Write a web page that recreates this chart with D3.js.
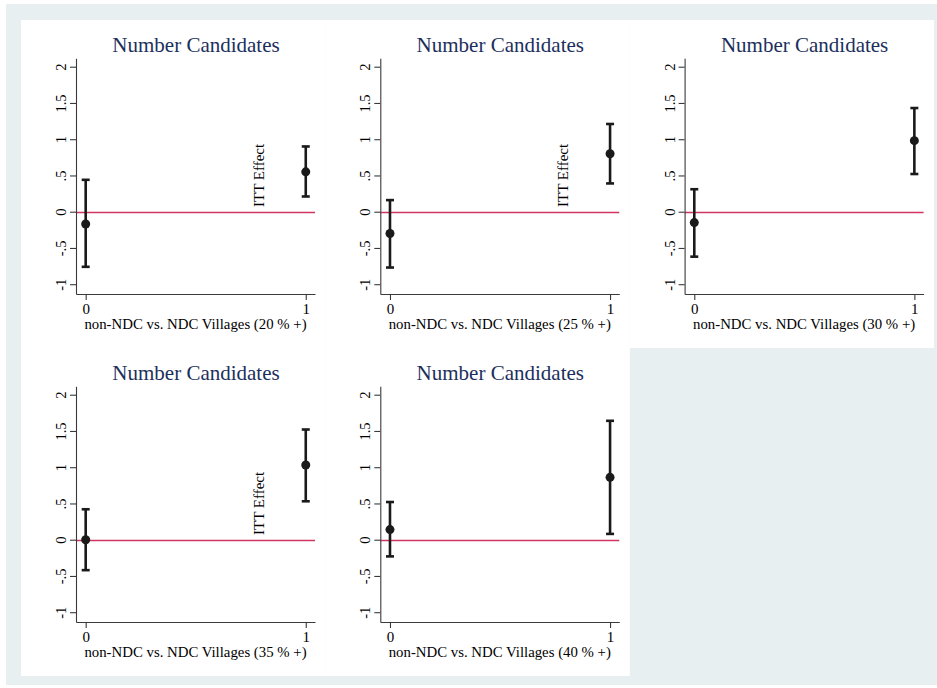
<!doctype html>
<html>
<head>
<meta charset="utf-8">
<script src="https://d3js.org/d3.v7.min.js"></script>
<style>
  body { margin: 0; background: #ffffff; }
  text { font-family: "Liberation Serif", "Times New Roman", serif; }
</style>
</head>
<body>
<div id="chart"></div>
<script>
// ---- data ----
var thresholds = ["20", "25", "30", "35", "40"];
var groups = [0, 1];
var pointEst = [[-0.17, 0.55], [-0.30, 0.80], [-0.15, 0.98], [0.00, 1.03], [0.14, 0.86]];
var ciLow    = [[-0.76, 0.21], [-0.77, 0.39], [-0.62, 0.52], [-0.42, 0.53], [-0.23, 0.08]];
var ciHigh   = [[0.44, 0.90], [0.16, 1.21], [0.31, 1.43], [0.42, 1.52], [0.52, 1.64]];
var showItt  = [true, true, false, true, false];
var yTicks = [-1, -0.5, 0, 0.5, 1, 1.5, 2];
var yTickLabels = ["-1", "-.5", "0", ".5", "1", "1.5", "2"];
var xTicks = [0, 1];

var W = 937, H = 688;
var panelW = 304.5, panelH = 328;

var svg = d3.select("#chart").append("svg")
    .attr("width", W)
    .attr("height", H);

// outer (combined graph) region
svg.append("rect")
    .attr("x", 6).attr("y", 4)
    .attr("width", W - 6).attr("height", 681)
    .attr("fill", "#e8eff1");

// scales shared by all panels (panel-local coords)
var x = d3.scaleLinear().domain([-0.044, 1.042]).range([55, 294]);
var y = d3.scaleLinear().domain([-1.135, 2.116]).range([274, 38.3]);

thresholds.forEach(function(t, i) {
  var col = i % 3, row = Math.floor(i / 3);
  var oy = Math.round(20 + row * 327.6);
  var g = svg.append("g")
      .attr("transform", "translate(" + (21 + col * 304.3) + "," + oy + ")");

  g.append("rect")
      .attr("width", panelW).attr("height", panelH)
      .attr("fill", "#ffffff");

  // title
  g.append("text")
      .attr("x", 175).attr("y", 32)
      .attr("text-anchor", "middle")
      .style("font-size", "21px")
      .attr("fill", "#1c2f5c")
      .text("Number Candidates");

  // zero reference line (snapped to a pixel row)
  var y0 = Math.round(y(0)) + 0.5;
  g.append("line")
      .attr("x1", x.range()[0]).attr("x2", x.range()[1])
      .attr("y1", y0).attr("y2", y0)
      .attr("stroke", "#cf3560")
      .attr("stroke-width", 1.4);

  // y axis
  var ya = g.append("g")
      .attr("transform", "translate(" + x.range()[0] + ",0)")
      .call(d3.axisLeft(y).tickValues(yTicks).tickSize(6).tickSizeOuter(0)
        .tickFormat(function(d, k) { return yTickLabels[k]; }));
  ya.selectAll("text")
      .attr("x", null).attr("dy", null)
      .attr("transform", "translate(-10,0) rotate(-90)")
      .attr("text-anchor", "middle")
      .attr("fill", "#000")
      .style("font-size", "14.5px");

  // x axis
  var xa = g.append("g")
      .attr("transform", "translate(0," + y.range()[0] + ")")
      .call(d3.axisBottom(x).tickValues(xTicks).tickSize(6).tickSizeOuter(0)
        .tickFormat(d3.format("d")));
  xa.selectAll("text")
      .attr("y", 20).attr("dy", null)
      .attr("fill", "#000")
      .style("font-size", "15px");

  [ya, xa].forEach(function(a) {
    a.attr("font-family", null);
    a.selectAll("path, line").attr("stroke", "#3a3a3a").attr("stroke-width", 1.1);
  });

  // x axis title
  g.append("text")
      .attr("x", 174.5).attr("y", 309)
      .attr("text-anchor", "middle")
      .style("font-size", "14.8px")
      .attr("fill", "#000")
      .text("non-NDC vs. NDC Villages (" + t + " % +)");

  // error bars
  groups.forEach(function(gr, j) {
    var cx = x(gr);
    var bar = g.append("g").attr("stroke", "#1a1a1a").attr("stroke-width", 2.6);
    bar.append("line")
        .attr("x1", cx).attr("x2", cx)
        .attr("y1", y(ciLow[i][j])).attr("y2", y(ciHigh[i][j]));
    [ciLow[i][j], ciHigh[i][j]].forEach(function(v) {
      bar.append("line")
          .attr("x1", cx - 4).attr("x2", cx + 4)
          .attr("y1", y(v)).attr("y2", y(v));
    });
    g.append("circle")
        .attr("cx", cx).attr("cy", y(pointEst[i][j]))
        .attr("r", 4.5)
        .attr("fill", "#1a1a1a");
  });

  if (showItt[i]) {
    g.append("text")
        .attr("transform", "translate(" + x(0.81) + "," + y(0.065) + ") rotate(-90)")
        .attr("text-anchor", "start")
        .style("font-size", "15px")
        .attr("fill", "#000")
        .text("ITT Effect");
  }
});
</script>
</body>
</html>
